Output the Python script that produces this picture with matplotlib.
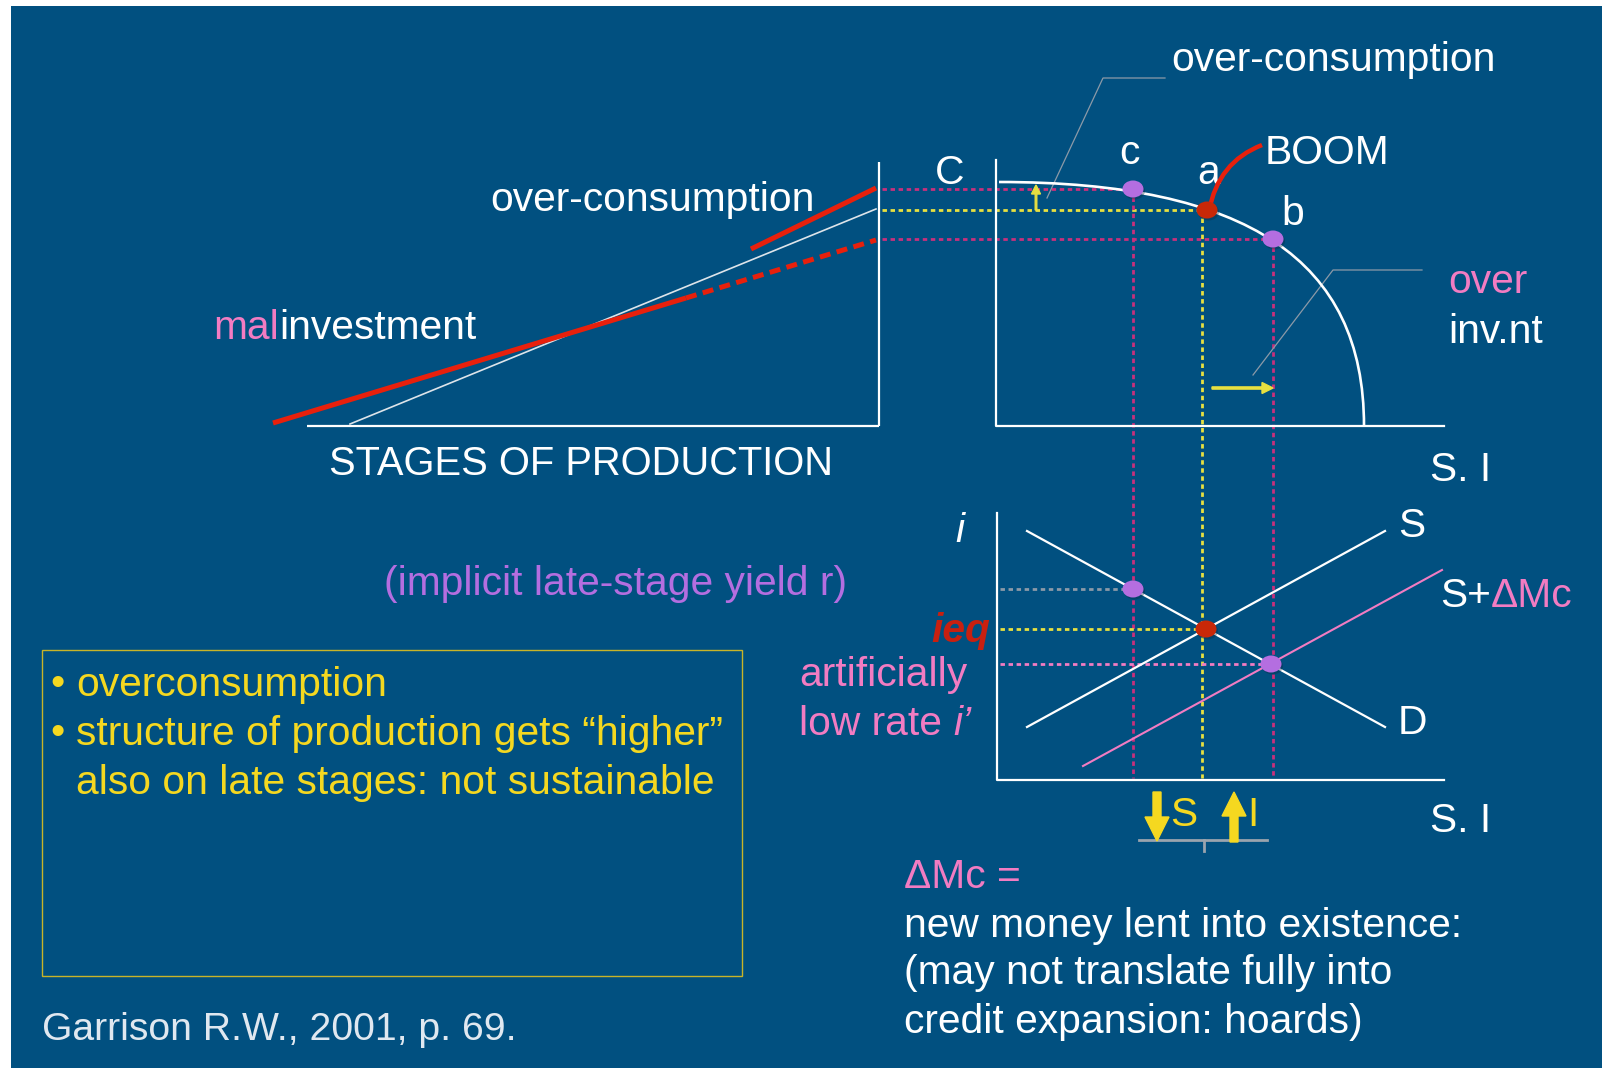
import matplotlib
matplotlib.use('Agg')
import matplotlib.pyplot as plt
from matplotlib.patches import Rectangle, Ellipse, PathPatch
from matplotlib.path import Path

plt.rcParams['font.family'] = ['Liberation Sans', 'DejaVu Sans']

# ---- colours ----
bg = '#015080'
red = '#e8200c'
red_pt = '#c82808'
purple = '#b46ee0'
pink = '#f27cc2'
magenta = '#c8307c'
yellow = '#e8e040'
yellow_txt = '#f5d820'
gray = '#8c9aa8'
white = 'white'

# ---- diagram geometry (pixels) ----
# left panel: stages of production
stage_base_x = [307, 879]
stage_base_y = [426, 426]
stage_vert_x = [879, 879]
stage_vert_y = [162, 426]
hyp_x = [350, 876]
hyp_y = [424, 209]
mal_x = [273, 686]
mal_y = [423, 298]
mal_dash_x = [686, 876]
mal_dash_y = [298, 240]
over_x = [751, 876]
over_y = [249, 188]

# upper right panel: PPF
ppf_axis_x = [996, 996, 1444]
ppf_axis_y = [160, 426, 426]
ppf_ctrl_x = [999, 1247, 1364, 1364]
ppf_ctrl_y = [182, 182, 260, 426]
pt_names = ['c', 'a', 'b']
pt_x = [1133, 1207, 1273]
pt_y = [189, 210, 239]

# lower right panel: loanable funds
lf_axis_x = [997, 997, 1444]
lf_axis_y = [513, 780, 780]
d_x = [1027, 1385]
d_y = [531, 727]
s_x = [1027, 1385]
s_y = [727, 531]
sm_x = [1083, 1442]
sm_y = [766, 570]
lf_pt_x = [1133, 1206, 1271]
lf_pt_y = [589, 629, 664]

fig = plt.figure(figsize=(16.02, 10.68), dpi=100)
fig.patch.set_facecolor('white')
ax = fig.add_axes([0, 0, 1, 1])
ax.set_xlim(0, 1602)
ax.set_ylim(1068, 0)
ax.axis('off')

ax.add_patch(Rectangle((11, 6), 1602 - 11, 1068 - 6, facecolor=bg, edgecolor='none', zorder=0))

# ---- left panel ----
ax.plot(stage_base_x, stage_base_y, color=white, lw=1.6, solid_capstyle='butt')
ax.plot(stage_vert_x, stage_vert_y, color=white, lw=1.6, solid_capstyle='butt')
ax.plot(hyp_x, hyp_y, color='#dde4ea', lw=1.2)
ax.plot(mal_x, mal_y, color=red, lw=3.6, solid_capstyle='butt', zorder=4)
ax.plot(mal_dash_x, mal_dash_y, color=red, lw=3.6, dashes=(2.2, 1.3), zorder=4)
ax.plot(over_x, over_y, color=red, lw=3.6, solid_capstyle='butt', zorder=4)

# ---- dashed guide lines ----
dash = (0, (1.6, 1.3))
lwd = 2.0
ax.plot([882, pt_x[0]], [pt_y[0], pt_y[0]], color=magenta, lw=lwd, linestyle=dash)
ax.plot([882, pt_x[1]], [pt_y[1], pt_y[1]], color=yellow, lw=lwd, linestyle=dash)
ax.plot([882, pt_x[2]], [pt_y[2], pt_y[2]], color=magenta, lw=lwd, linestyle=dash)
ax.plot([pt_x[0], pt_x[0]], [pt_y[0], 778], color=magenta, lw=lwd, linestyle=dash)
ax.plot([1202, 1202], [pt_y[1], 778], color=yellow, lw=lwd, linestyle=dash)
ax.plot([pt_x[2], pt_x[2]], [pt_y[2], 778], color=magenta, lw=lwd, linestyle=dash)
ax.plot([1000, lf_pt_x[0]], [lf_pt_y[0], lf_pt_y[0]], color=gray, lw=lwd, linestyle=dash)
ax.plot([1000, lf_pt_x[1]], [lf_pt_y[1], lf_pt_y[1]], color=yellow, lw=lwd, linestyle=dash)
ax.plot([1000, lf_pt_x[2]], [lf_pt_y[2], lf_pt_y[2]], color=pink, lw=lwd, linestyle=dash)

# ---- PPF panel ----
ax.plot(ppf_axis_x, ppf_axis_y, color=white, lw=1.6)
ppf_path = Path(list(zip(ppf_ctrl_x, ppf_ctrl_y)),
                [Path.MOVETO, Path.CURVE4, Path.CURVE4, Path.CURVE4])
ax.add_patch(PathPatch(ppf_path, facecolor='none', edgecolor=white, lw=1.9, zorder=3))

# BOOM pointer
boom_path = Path([(1209, 211), (1218, 162), (1262, 145)], [Path.MOVETO, Path.CURVE3, Path.CURVE3])
ax.add_patch(PathPatch(boom_path, facecolor='none', edgecolor=red, lw=3.2, zorder=6, capstyle='butt'))

# gray leader lines
ax.plot([1047, 1103, 1165], [198, 78, 78], color=gray, lw=0.9)
ax.plot([1253, 1333, 1422], [375, 270, 270], color=gray, lw=0.9)

# small yellow arrows
ax.arrow(1036, 210, 0, -25, width=1.6, head_width=9, head_length=9,
         length_includes_head=True, color=yellow, zorder=5)
ax.arrow(1212, 388, 61, 0, width=2.2, head_width=11, head_length=11,
         length_includes_head=True, color=yellow, zorder=5)

# ---- loanable funds panel ----
ax.plot(lf_axis_x, lf_axis_y, color=white, lw=1.6)
ax.plot(d_x, d_y, color=white, lw=1.6)
ax.plot(s_x, s_y, color=white, lw=1.6)
ax.plot(sm_x, sm_y, color=pink, lw=1.5)


def dot(x, y, c):
    ax.add_patch(Ellipse((x + 1.5, y + 2), 21, 17, facecolor='#0a2a40', alpha=0.35, edgecolor='none', zorder=7))
    ax.add_patch(Ellipse((x, y), 21, 17, facecolor=c, edgecolor='none', zorder=8))


for x, y, n in zip(pt_x, pt_y, pt_names):
    dot(x, y, red_pt if n == 'a' else purple)
dot(lf_pt_x[0], lf_pt_y[0], purple)
dot(lf_pt_x[1], lf_pt_y[1], red_pt)
dot(lf_pt_x[2], lf_pt_y[2], purple)

# S / I arrows under the axis
ax.plot([1139, 1267], [840, 840], color='#9aa4ae', lw=2)
ax.plot([1204, 1204], [840, 851], color='#9aa4ae', lw=2)
ax.arrow(1157, 792, 0, 49, width=8, head_width=24, head_length=24,
         length_includes_head=True, color=yellow_txt, zorder=5)
ax.arrow(1234, 842, 0, -50, width=8, head_width=24, head_length=24,
         length_includes_head=True, color=yellow_txt, zorder=5)

# ---- texts ----
fs = 29.3
dy = 3


def txt(x, y, s, c=white, **kw):
    return ax.text(x, y + dy, s, color=c, fontsize=kw.pop('fontsize', fs), ha=kw.pop('ha', 'left'),
                   va=kw.pop('va', 'center'), **kw)


def after(prev, s, c=white, **kw):
    return ax.annotate(s, xy=(1, 0), xycoords=prev, ha='left', va='bottom', color=c,
                       fontsize=kw.pop('fontsize', fs), **kw)


txt(1171, 57, 'over-consumption')
txt(490, 197, 'over-consumption')
t = txt(213, 325, 'mal', c=pink)
after(t, 'investment')
txt(329, 461, 'STAGES OF PRODUCTION', fontsize=28.7)
txt(950, 170, 'C', ha='center')
txt(1129, 150, 'c', ha='center')
txt(1209, 170, 'a', ha='center')
txt(1293, 211, 'b', ha='center')
txt(1265, 150, 'BOOM')
txt(1448, 279, 'over', c=pink)
txt(1448, 329, 'inv.nt')
txt(1430, 467, 'S. I')
txt(1430, 818, 'S. I')

txt(960, 528, 'i', style='italic', ha='center')
txt(990, 628, 'ieq', c='#c82010', fontweight='bold', style='italic', ha='right')
txt(799, 672, 'artificially', c=pink)
t = txt(799, 721, 'low rate ', c=pink)
after(t, 'i\u2019', c=pink, style='italic')
txt(384, 581, '(implicit late-stage yield r)', c=purple)
txt(1398, 523, 'S')
t = txt(1440, 593, 'S+')
after(t, '\u0394Mc', c=pink)
txt(1398, 720, 'D')
txt(1170, 812, 'S', c=yellow_txt)
txt(1247, 812, 'I', c=yellow_txt)

txt(904, 874, '\u0394Mc =', c=pink)
txt(904, 923, 'new money lent into existence:')
txt(904, 970, '(may not translate fully into')
txt(904, 1019, 'credit expansion: hoards)')

# yellow box with bullets
ax.add_patch(Rectangle((42, 650), 700, 326, facecolor='none', edgecolor='#c8b428', lw=1.0, zorder=2))
txt(50, 681, '\u2022', c=yellow_txt)
txt(76, 682, 'overconsumption', c=yellow_txt)
txt(50, 730, '\u2022', c=yellow_txt)
txt(76, 731, 'structure of production gets \u201chigher\u201d', c=yellow_txt)
txt(76, 780, 'also on late stages: not sustainable', c=yellow_txt)

txt(42, 1027, 'Garrison R.W., 2001, p. 69.', c='#e0e8f0', fontsize=28.2)

fig.savefig('out.png', dpi=100, facecolor=fig.get_facecolor())
